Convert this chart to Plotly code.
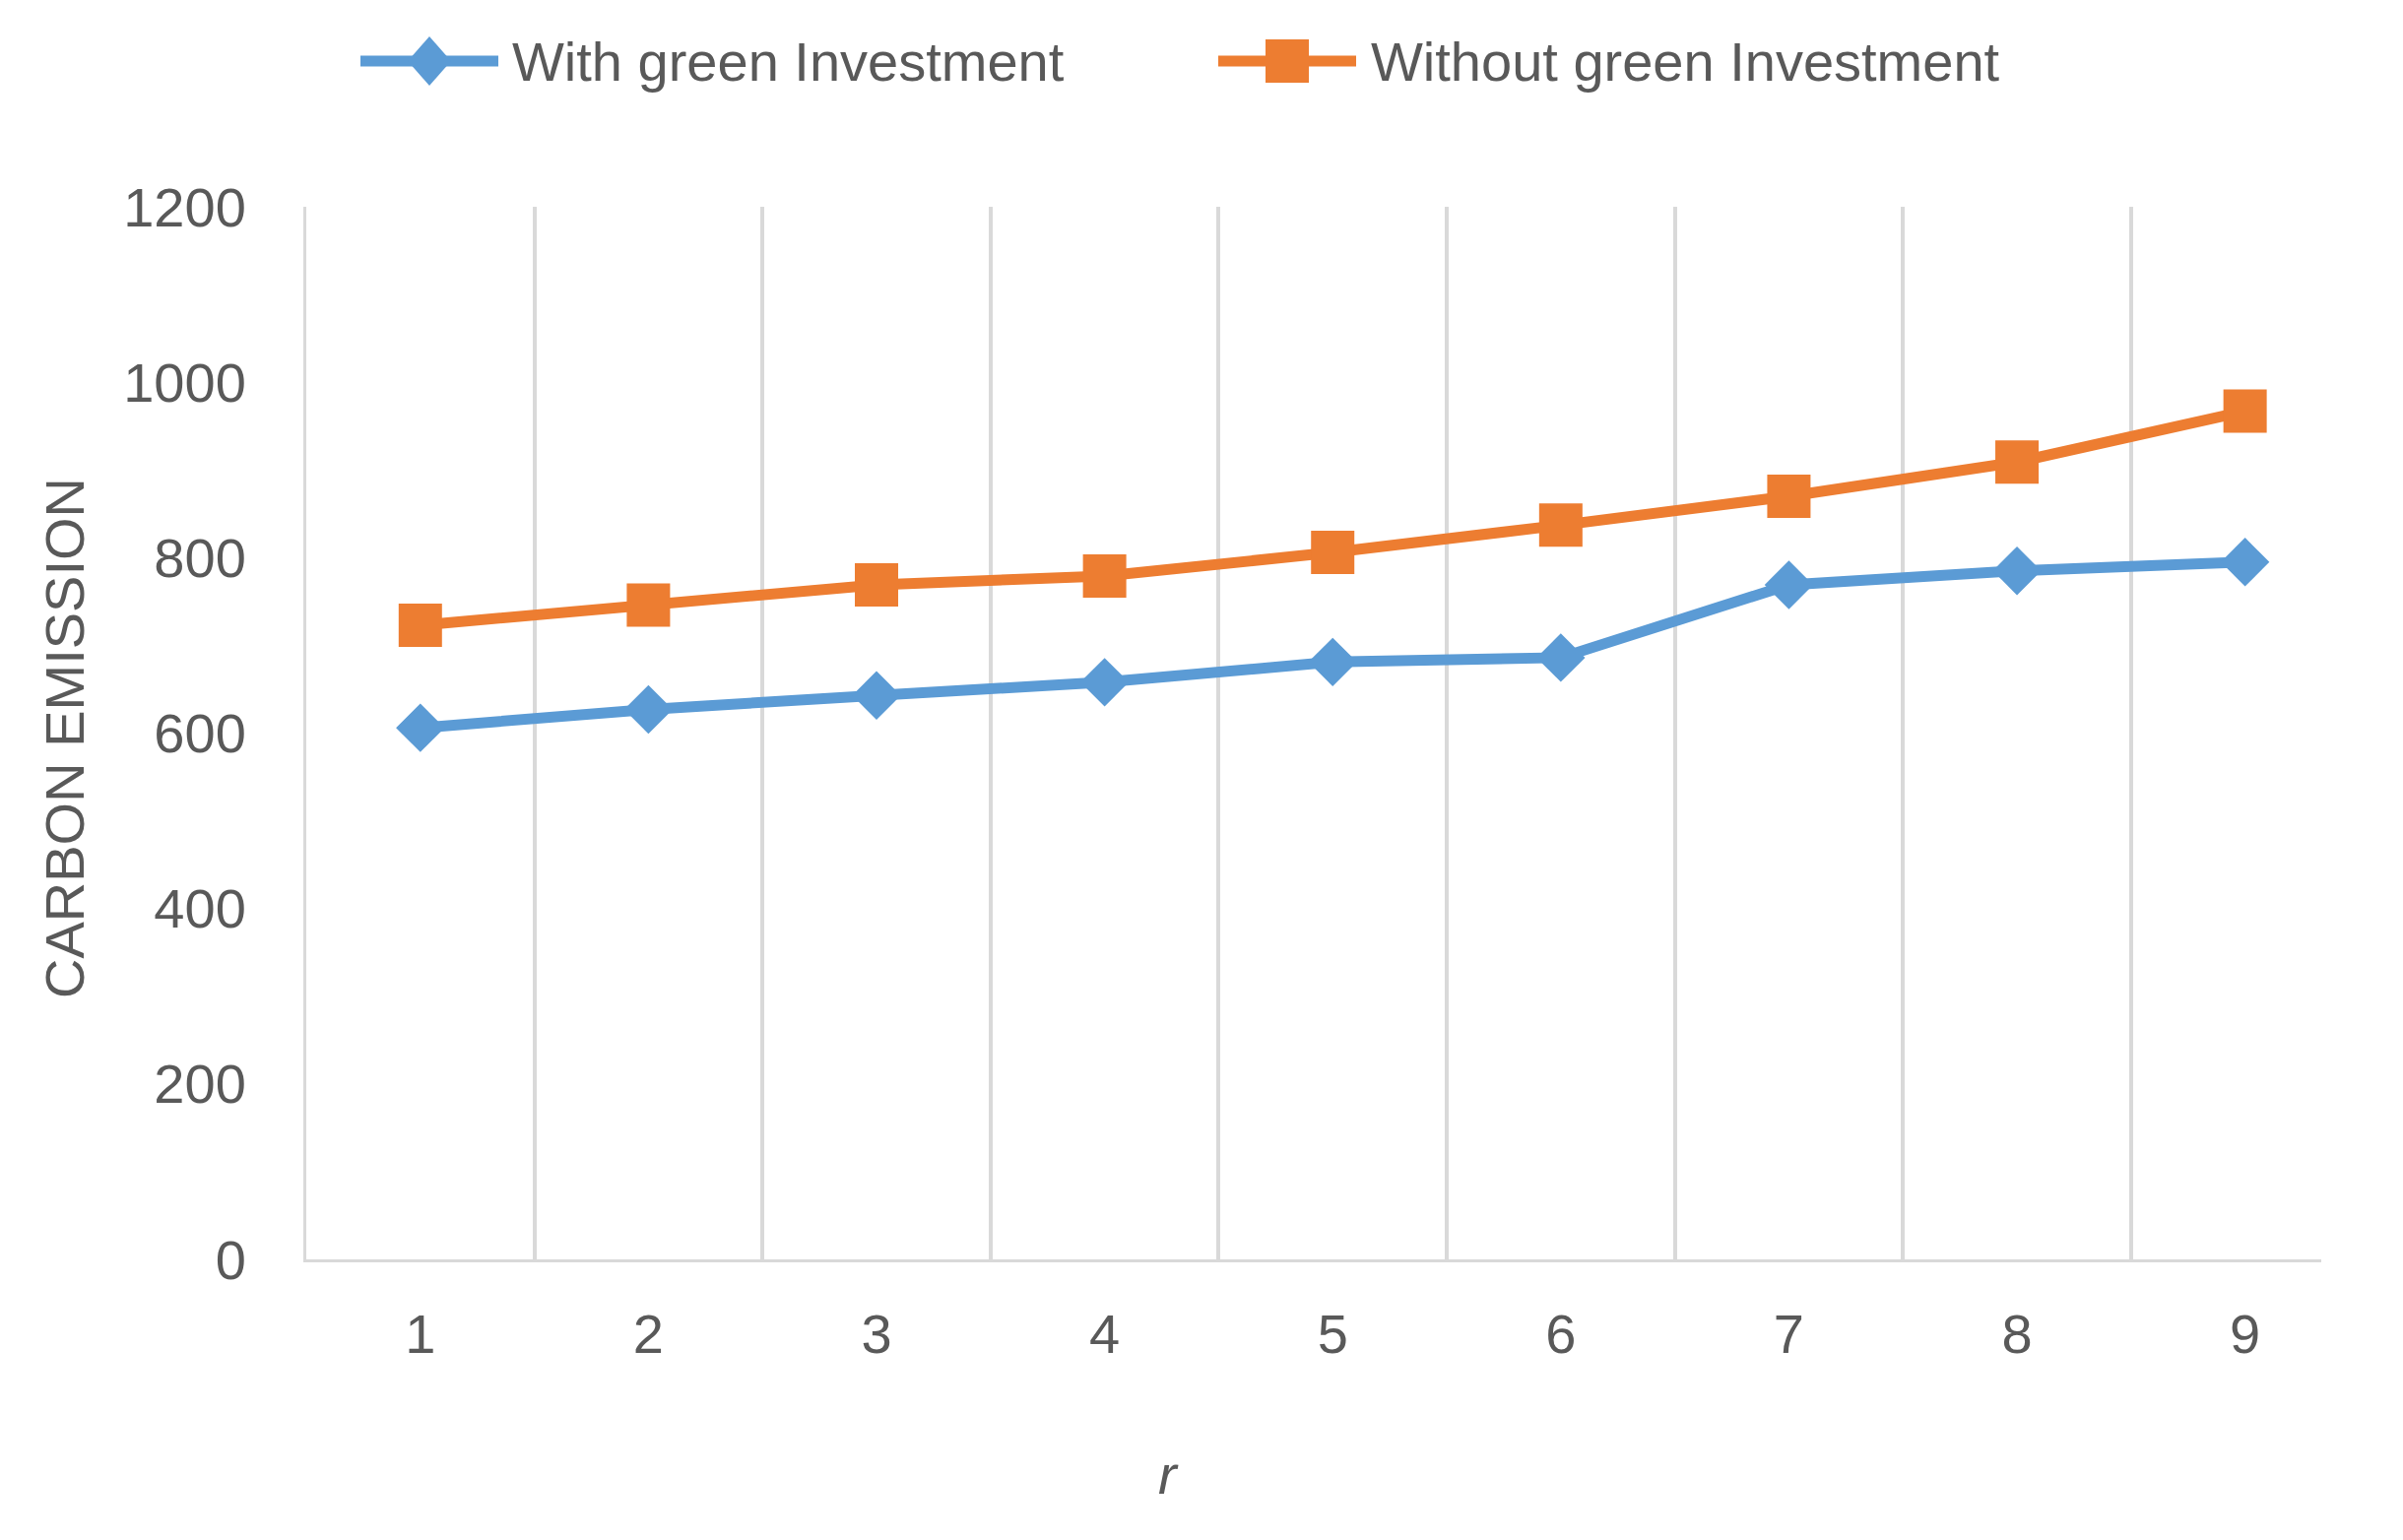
import plotly.graph_objects as go

# ---- data ----
categories = [1, 2, 3, 4, 5, 6, 7, 8, 9]
with_green = [606, 627, 643, 658, 681, 686, 769, 785, 795]
without_green = [723, 746, 769, 779, 806, 837, 870, 909, 967]
y_ticks = [0, 200, 400, 600, 800, 1000, 1200]
series_names = ["With green Investment", "Without green Investment"]
x_title = "r"
y_title = "CARBON EMISSION"

BLUE = "#5B9BD5"
ORANGE = "#ED7D31"
GRID = "#D9D9D9"
TXT = "#595959"
FONT = "Liberation Sans, Arial, sans-serif"
FS = 56
OFF = 8  # page body margin

fig = go.Figure()
fig.add_trace(go.Scatter(
    x=categories, y=with_green, mode="lines+markers", name=series_names[0],
    line=dict(color=BLUE, width=11),
    marker=dict(symbol="diamond", size=38, color=BLUE), showlegend=False))
fig.add_trace(go.Scatter(
    x=categories, y=without_green, mode="lines+markers", name=series_names[1],
    line=dict(color=ORANGE, width=11),
    marker=dict(symbol="square", size=44, color=ORANGE), showlegend=False))

W, H = 2440, 1564
# desired plot area in page pixels
PL, PR, PT, PB = 311, 2357, 210, 1279
L, T = PL - OFF, PT - OFF
R, B = W - (PR - OFF), H - (PB - OFF)
pw, ph = PR - PL, PB - PT

def px(xpix):
    return (xpix - PL) / pw

def py(ypix):
    return (PB - ypix) / ph

# legend drawn manually
leg_y = py(62)
shapes = []
annotations = []
legend_items = [
    (series_names[0], BLUE, "diamond", 366, 506, 518),
    (series_names[1], ORANGE, "square", 1237, 1377, 1390),
]
for name, col, sym, x0, x1, xt in legend_items:
    shapes.append(dict(type="line", xref="paper", yref="paper",
                       x0=px(x0), x1=px(x1), y0=leg_y, y1=leg_y,
                       line=dict(color=col, width=11)))
    xc = px((x0 + x1) / 2)
    if sym == "square":
        shapes.append(dict(type="rect", xref="paper", yref="paper",
                           xsizemode="pixel", ysizemode="pixel",
                           xanchor=xc, yanchor=leg_y,
                           x0=-22, x1=22, y0=-22, y1=22,
                           fillcolor=col, line=dict(width=0)))
    else:
        shapes.append(dict(type="path", xref="paper", yref="paper",
                           xsizemode="pixel", ysizemode="pixel",
                           xanchor=xc, yanchor=leg_y,
                           path="M0,25 L22,0 L0,-25 L-22,0 Z",
                           fillcolor=col, line=dict(width=0)))
    annotations.append(dict(text=name, xref="paper", yref="paper",
                            x=px(xt), y=leg_y, xanchor="left", yanchor="middle",
                            showarrow=False, font=dict(family=FONT, size=FS, color=TXT)))

annotations.append(dict(text=y_title, xref="paper", yref="paper",
                        x=px(65), y=py(750), textangle=-90,
                        xanchor="center", yanchor="middle", showarrow=False,
                        font=dict(family=FONT, size=FS, color=TXT)))
annotations.append(dict(text="<i>" + x_title + "</i>", xref="paper", yref="paper",
                        x=px(1186), y=py(1497),
                        xanchor="center", yanchor="middle", showarrow=False,
                        font=dict(family=FONT, size=FS, color=TXT)))

fig.update_layout(
    width=W, height=H,
    margin=dict(l=L, r=R, t=T, b=B),
    paper_bgcolor="white", plot_bgcolor="white",
    font=dict(family=FONT, size=FS, color=TXT),
    shapes=shapes, annotations=annotations,
    xaxis=dict(
        range=[0.5, 9.334], tickvals=categories, ticktext=[str(c) for c in categories],
        showgrid=False, zeroline=False,
        showline=True, linecolor=GRID, linewidth=3,
        ticks="outside", ticklen=25, tickcolor="rgba(0,0,0,0)",
        tickfont=dict(family=FONT, size=FS, color=TXT),
        minor=dict(tickvals=[c - 0.5 for c in categories], showgrid=True,
                   gridcolor=GRID, gridwidth=3.5, ticks=""),
    ),
    yaxis=dict(
        range=[0, 1200], tickvals=y_ticks,
        showgrid=False, zeroline=False,
        showline=True, linecolor=GRID, linewidth=3,
        ticks="outside", ticklen=47, tickcolor="rgba(0,0,0,0)",
        tickfont=dict(family=FONT, size=FS, color=TXT),
    ),
)

fig.write_html("out.html")
